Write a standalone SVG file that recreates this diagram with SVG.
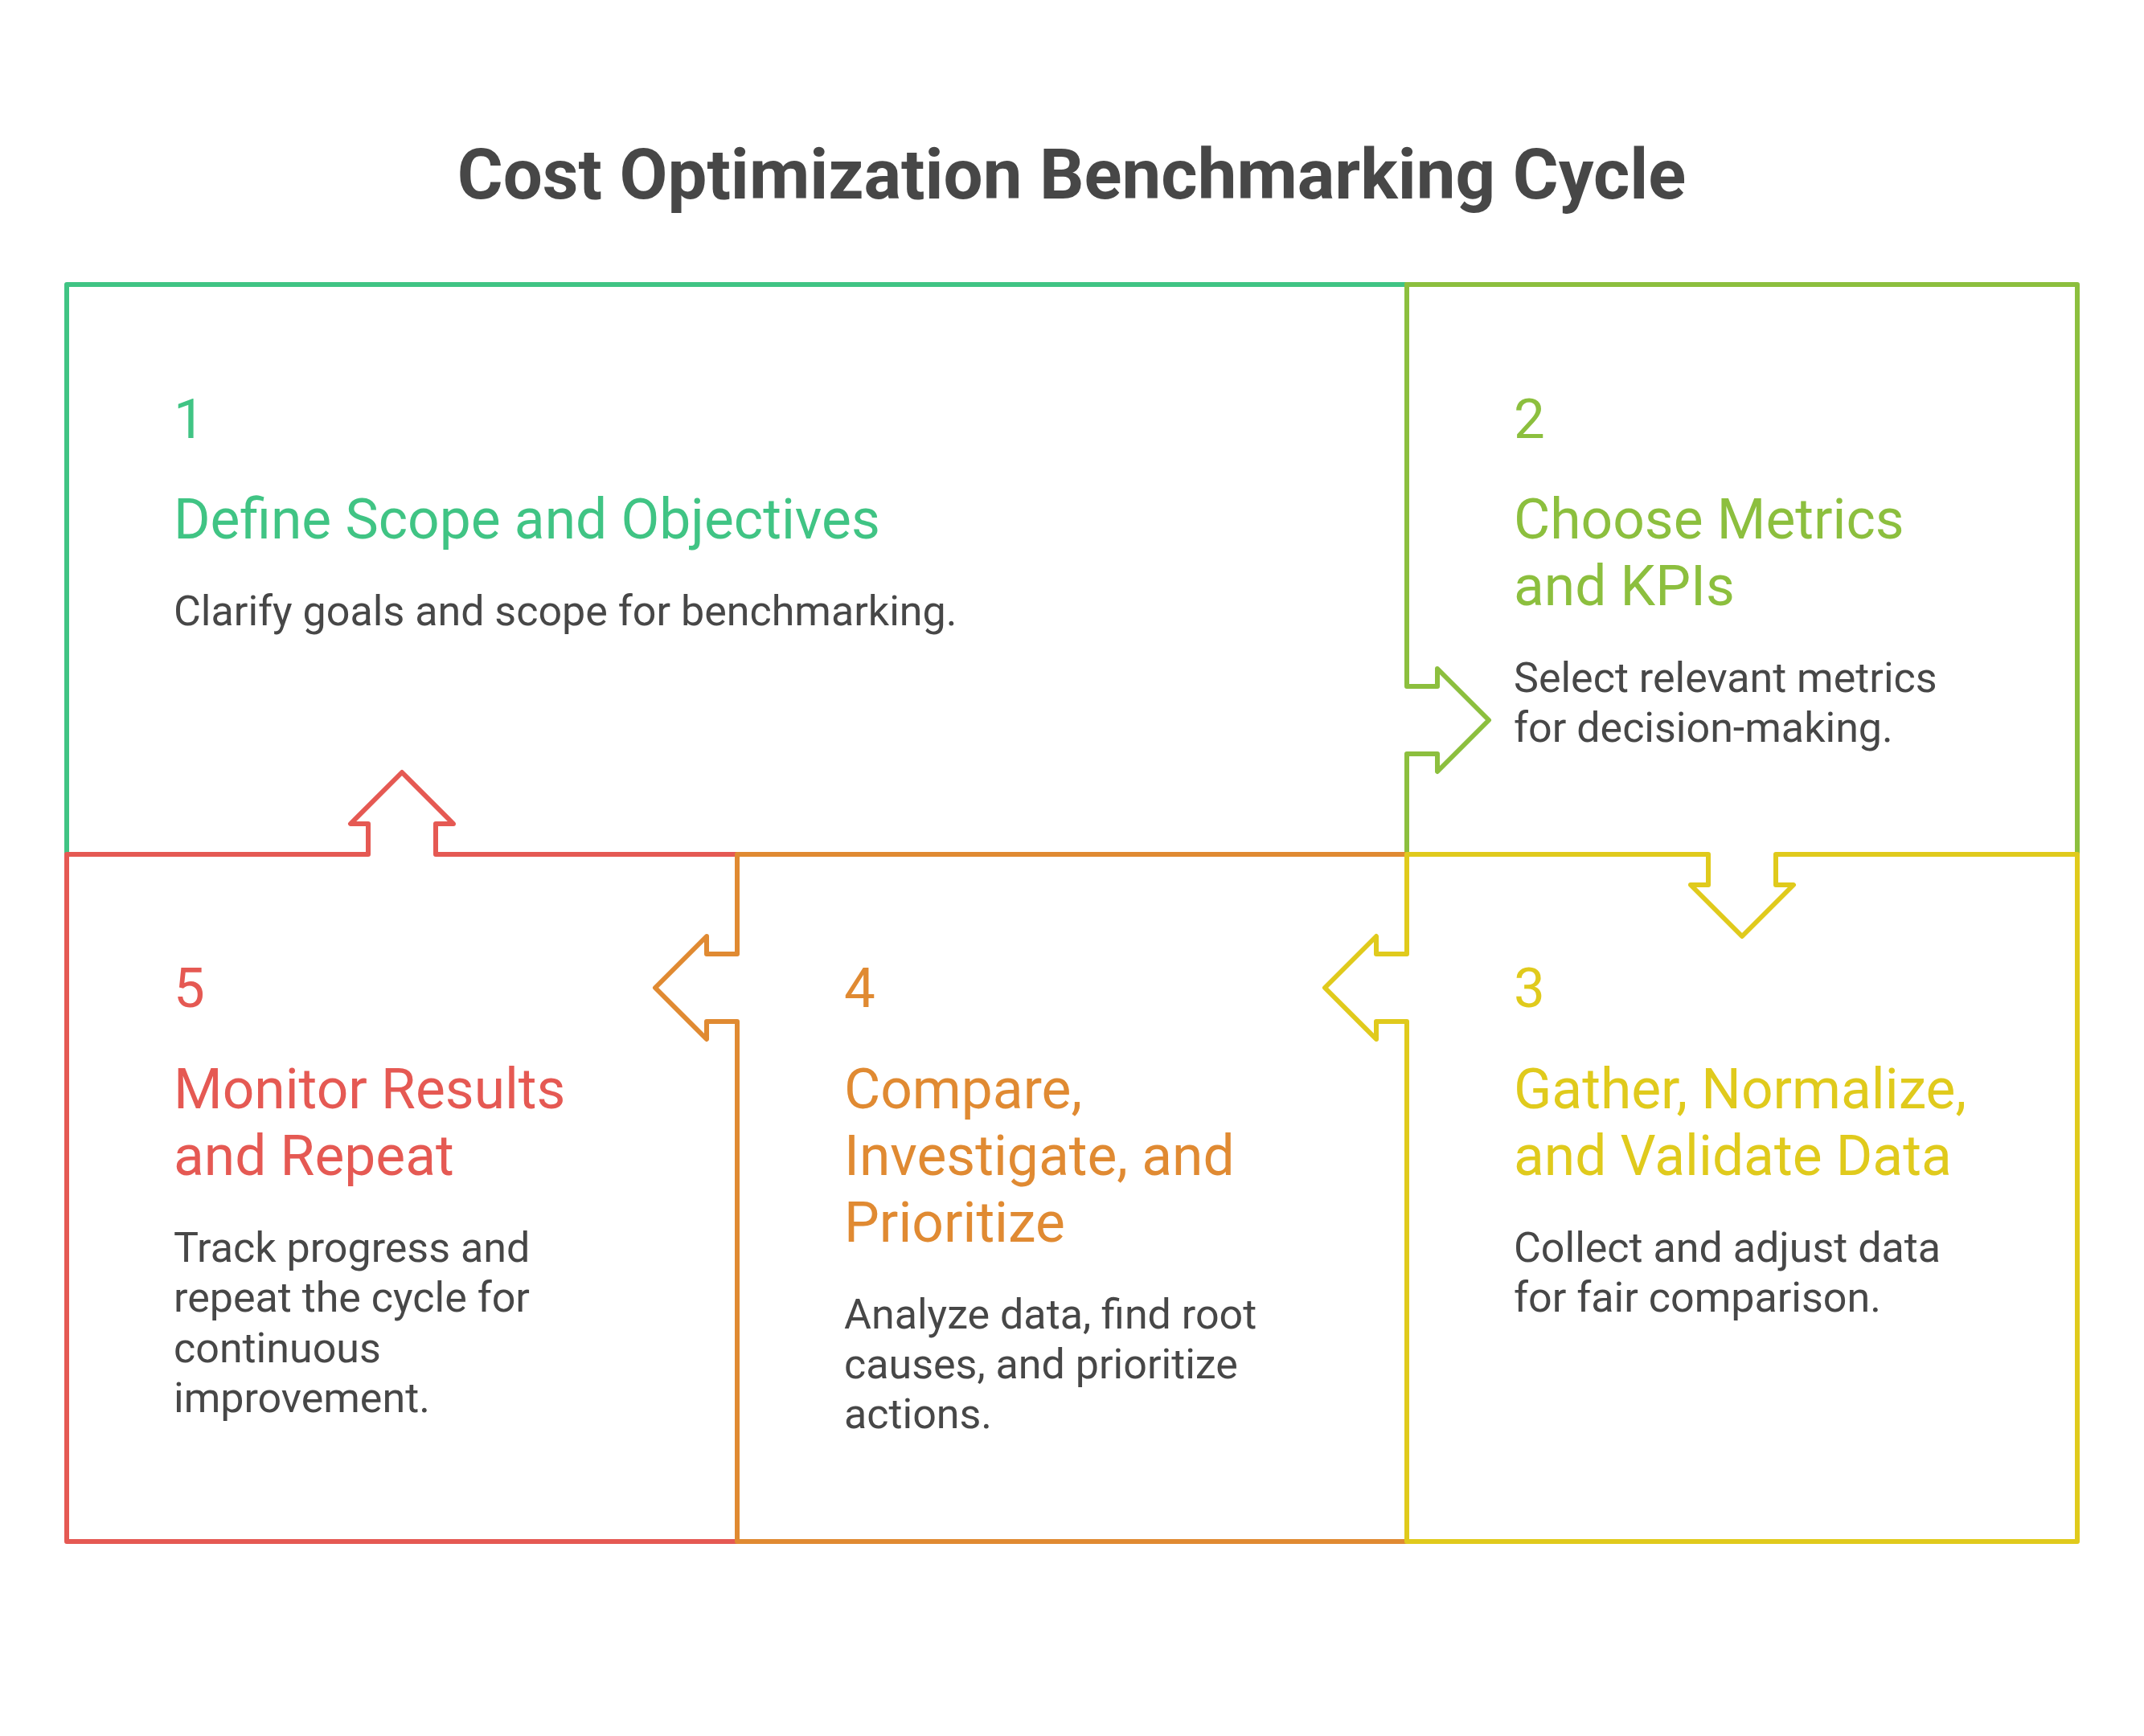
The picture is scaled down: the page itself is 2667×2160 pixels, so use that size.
<svg xmlns="http://www.w3.org/2000/svg" width="2667" height="2160" viewBox="0 0 2667 2160">
<style>
.edge{fill:none;stroke-width:6;stroke-linejoin:round;stroke-linecap:round}
.t{font-family:Roboto,"Liberation Sans",sans-serif}
.title{font-size:87px;font-weight:700;fill:#474747}
.num{font-size:69px}
.head{font-size:69.5px}
.body{font-size:52px;fill:#474747}
.c1{fill:#40C484}.s1{stroke:#40C484}
.c2{fill:#8CBF3E}.s2{stroke:#8CBF3E}
.c3{fill:#E0CA1C}.s3{stroke:#E0CA1C}
.c4{fill:#E08A32}.s4{stroke:#E08A32}
.c5{fill:#E55953}.s5{stroke:#E55953}
</style>
<rect width="2667" height="2160" fill="#ffffff"/>
<text class="t title" x="1333" y="247" text-anchor="middle">Cost Optimization Benchmarking Cycle</text>
<g id="connectors">
<path class="edge s1" d="M83,1063 V354 H1750"/>
<path class="edge s2" d="M1750,354 H2584 V1063"/>
<path class="edge s2" d="M1750,354 V854 H1788 V832 L1852,896 L1788,960 V938 H1750 V1063"/>
<path class="edge s5" d="M917,1063 H542 V1025 H564 L500,961 L436,1025 H458 V1063 H83 V1918 H917"/>
<path class="edge s4" d="M1750,1063 H917 V1187 H879 V1165 L815,1229 L879,1293 V1271 H917 V1918 H1750"/>
<path class="edge s3" d="M1750,1063 H2125 V1101 H2103 L2167,1165 L2231,1101 H2209 V1063 H2584 V1918 H1750 V1271 H1712 V1293 L1648,1229 L1712,1165 V1187 H1750 Z"/>
</g>
<g id="node1">
<text class="t num c1" x="216" y="545">1</text>
<text class="t head c1" x="216" y="670">Define Scope and Objectives</text>
<text class="t body" x="216" y="778">Clarify goals and scope for benchmarking.</text>
</g>
<g id="node2">
<text class="t num c2" x="1883" y="545">2</text>
<text class="t head c2" x="1883" y="670">Choose Metrics</text>
<text class="t head c2" x="1883" y="753">and KPIs</text>
<text class="t body" x="1883" y="861">Select relevant metrics</text>
<text class="t body" x="1883" y="923">for decision-making.</text>
</g>
<g id="node3">
<text class="t num c3" x="1883" y="1253">3</text>
<text class="t head c3" x="1883" y="1379">Gather, Normalize,</text>
<text class="t head c3" x="1883" y="1462">and Validate Data</text>
<text class="t body" x="1883" y="1570">Collect and adjust data</text>
<text class="t body" x="1883" y="1632">for fair comparison.</text>
</g>
<g id="node4">
<text class="t num c4" x="1050" y="1253">4</text>
<text class="t head c4" x="1050" y="1379">Compare,</text>
<text class="t head c4" x="1050" y="1462">Investigate, and</text>
<text class="t head c4" x="1050" y="1545">Prioritize</text>
<text class="t body" x="1050" y="1653">Analyze data, find root</text>
<text class="t body" x="1050" y="1715">causes, and prioritize</text>
<text class="t body" x="1050" y="1777">actions.</text>
</g>
<g id="node5">
<text class="t num c5" x="216" y="1253">5</text>
<text class="t head c5" x="216" y="1379">Monitor Results</text>
<text class="t head c5" x="216" y="1462">and Repeat</text>
<text class="t body" x="216" y="1570">Track progress and</text>
<text class="t body" x="216" y="1632">repeat the cycle for</text>
<text class="t body" x="216" y="1695">continuous</text>
<text class="t body" x="216" y="1757">improvement.</text>
</g>
</svg>
